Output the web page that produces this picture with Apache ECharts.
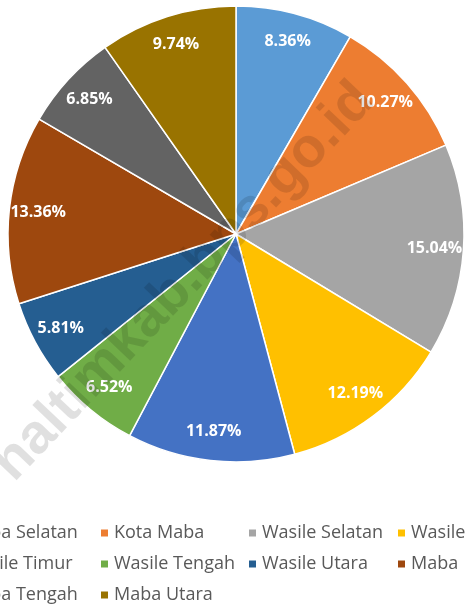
<!DOCTYPE html>
<html>
<head>
<meta charset="utf-8">
<script src="https://cdn.jsdelivr.net/npm/echarts@6/dist/echarts.min.js"></script>
<style>
  html, body { margin: 0; padding: 0; background: #fff; }
  #chart { width: 471px; height: 608px; }
</style>
</head>
<body>
<div id="chart"></div>
<script>
let names = ['Maba Selatan', 'Kota Maba', 'Wasile Selatan', 'Wasile', 'Wasile Timur',
             'Wasile Tengah', 'Wasile Utara', 'Maba', 'Maba Tengah', 'Maba Utara'];
let values = [8.36, 10.27, 15.04, 12.19, 11.87, 6.52, 5.81, 13.36, 6.85, 9.74];
let colors = ['#5B9BD5', '#ED7D31', '#A5A5A5', '#FFC000', '#4472C4',
              '#70AD47', '#255E91', '#9E480E', '#636363', '#997300'];

let myChart = echarts.init(document.getElementById('chart'));

let pieData = [];
for (let i = 0; i < names.length; i++) {
    pieData.push({ name: names[i], value: values[i], itemStyle: { color: colors[i] } });
}

// legend laid out as a 4 column grid, like the excel one (partly cut off)
let legends = [];
let colX = [-51, 99, 247, 396];
let rowY = [524, 555, 586];
for (let i = 0; i < names.length; i++) {
    legends.push({
        left: colX[i % 4],
        top: rowY[Math.floor(i / 4)],
        padding: 0,
        icon: 'rect',
        itemWidth: 9,
        itemHeight: 9,
        itemGap: 0,
        selectedMode: false,
        textStyle: { color: '#595959', fontSize: 18, fontFamily: 'Open Sans' },
        data: [names[i]]
    });
}

let option = {
    animation: false,
    color: colors,
    legend: legends,
    graphic: [{
        type: 'text',
        z: 100,
        x: 184,
        y: 282,
        rotation: 0.81,
        style: {
            text: 'haltimkab.bps.go.id',
            font: 'bold 56px "Liberation Sans"',
            fill: 'rgba(0,0,0,0.12)',
            align: 'center',
            verticalAlign: 'middle'
        }
    }],
    series: [{
        type: 'pie',
        center: [236, 234],
        radius: [0, 228],
        startAngle: 90,
        clockwise: true,
        label: { show: false },
        labelLine: { show: false },
        itemStyle: { borderColor: '#fff', borderWidth: 1.5 },
        emphasis: { disabled: true },
        data: pieData
    }, {
        // transparent ring only used to place the labels near the rim
        type: 'pie',
        center: [236, 234],
        radius: [164, 228],
        startAngle: 90,
        clockwise: true,
        silent: true,
        itemStyle: { color: 'transparent', borderWidth: 0 },
        label: {
            show: true,
            position: 'inside',
            color: '#fff',
            fontSize: 16,
            fontWeight: 'bold',
            fontFamily: 'Open Sans',
            formatter: function (p) { return p.value.toFixed(2) + '%'; }
        },
        labelLine: { show: false },
        emphasis: { disabled: true },
        data: names.map(function (n, i) { return { name: n, value: values[i] }; })
    }]
};
myChart.setOption(option);
</script>
</body>
</html>
